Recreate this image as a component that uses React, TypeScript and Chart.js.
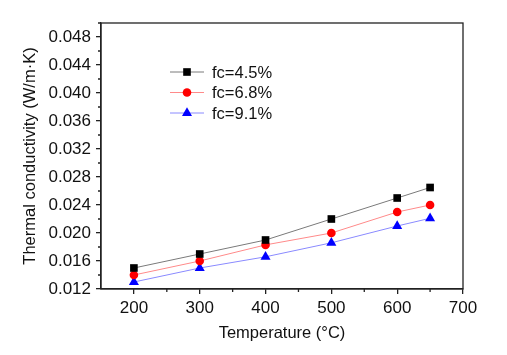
import React, { useEffect, useRef } from "react";
import { Chart, registerables } from "chart.js";

Chart.register(...registerables);

const temperatures = [200, 300, 400, 500, 600, 650];
const seriesLabels = ["fc=4.5%", "fc=6.8%", "fc=9.1%"];
const fc45 = [0.015, 0.017, 0.019, 0.022, 0.025, 0.0265];
const fc68 = [0.014, 0.016, 0.0183, 0.020, 0.023, 0.024];
const fc91 = [0.013, 0.015, 0.0166, 0.0186, 0.021, 0.0221];
const xMajorTicks = [200, 300, 400, 500, 600, 700];
const yMajorTicks = [0.012, 0.016, 0.020, 0.024, 0.028, 0.032, 0.036, 0.040, 0.044, 0.048];
const xMinorTicks = [250, 350, 450, 550, 650];
const yMinorTicks = [0.014, 0.018, 0.022, 0.026, 0.030, 0.034, 0.038, 0.042, 0.046, 0.050];

const FONT = "'Liberation Sans', Arial, Helvetica, sans-serif";
const AXIS = "#222";

function drawMarker(ctx: CanvasRenderingContext2D, style: string, r: number, x: number, y: number) {
  ctx.beginPath();
  if (style === "rect") {
    const s = Math.SQRT1_2 * r;
    ctx.rect(x - s, y - s, 2 * s, 2 * s);
  } else if (style === "circle") {
    ctx.arc(x, y, r, 0, Math.PI * 2);
  } else {
    ctx.moveTo(x, y - r);
    ctx.lineTo(x + r * Math.sin(Math.PI / 3), y + r / 2);
    ctx.lineTo(x - r * Math.sin(Math.PI / 3), y + r / 2);
    ctx.closePath();
  }
  ctx.fill();
}

const framePlugin = {
  id: "frame",
  afterDraw(chart: any) {
    const { ctx, chartArea: a, scales } = chart;
    ctx.save();
    ctx.strokeStyle = AXIS;
    ctx.lineWidth = 1.3;
    ctx.strokeRect(a.left, a.top, a.right - a.left, a.bottom - a.top);
    ctx.beginPath();
    for (const v of xMinorTicks) {
      const px = scales.x.getPixelForValue(v);
      ctx.moveTo(px, a.bottom);
      ctx.lineTo(px, a.bottom + 3);
    }
    for (const v of yMinorTicks) {
      const py = scales.y.getPixelForValue(v);
      ctx.moveTo(a.left, py);
      ctx.lineTo(a.left - 3, py);
    }
    ctx.stroke();

    // legend
    const lx0 = a.left + 69;
    const lx1 = a.left + 103;
    const tx = a.left + 111;
    const rowY = [a.top + 49, a.top + 69.5, a.top + 90];
    chart.data.datasets.forEach((ds: any, i: number) => {
      const y = rowY[i];
      ctx.strokeStyle = ds.borderColor;
      ctx.lineWidth = 1;
      ctx.beginPath();
      ctx.moveTo(lx0, y);
      ctx.lineTo(lx1, y);
      ctx.stroke();
      ctx.fillStyle = ds.pointBackgroundColor;
      drawMarker(ctx, ds.pointStyle, ds.pointRadius, (lx0 + lx1) / 2, y);
      ctx.fillStyle = "#111";
      ctx.font = `16.5px ${FONT}`;
      ctx.textBaseline = "middle";
      ctx.textAlign = "left";
      ctx.fillText(ds.label, tx, y + 1);
    });
    ctx.restore();
  },
};

export default function App() {
  const ref = useRef<HTMLCanvasElement>(null);
  useEffect(() => {
    const mk = (label: string, vals: number[], line: string, fill: string, style: string, r: number) => ({
      label,
      data: temperatures.map((t, i) => ({ x: t, y: vals[i] })),
      borderColor: line,
      borderWidth: 1,
      pointStyle: style,
      pointRadius: r,
      pointBackgroundColor: fill,
      pointBorderColor: fill,
      pointBorderWidth: 0,
      tension: 0,
    });
    const chart = new Chart(ref.current!, {
      type: "line",
      data: {
        datasets: [
          mk(seriesLabels[0], fc45, "#7a7a7a", "#000000", "rect", 5.4),
          mk(seriesLabels[1], fc68, "#ff8a8a", "#ff0000", "circle", 4.3),
          mk(seriesLabels[2], fc91, "#8a8aff", "#0000ff", "triangle", 5.8),
        ] as any,
      },
      options: {
        animation: false,
        responsive: false,
        layout: { padding: { left: 0, top: 23, right: 44, bottom: 0 } },
        plugins: { legend: { display: false }, tooltip: { enabled: false } },
        scales: {
          x: {
            type: "linear",
            min: 150,
            max: 700,
            afterBuildTicks: (s: any) => {
              s.ticks = xMajorTicks.map((v) => ({ value: v }));
            },
            afterFit: (s: any) => {
              s.height = 66;
            },
            ticks: {
              color: "#111",
              font: { family: FONT, size: 17 },
              padding: 4,
              maxRotation: 0,
              autoSkip: false,
            },
            grid: { drawOnChartArea: false, drawTicks: true, tickLength: 5, color: AXIS, lineWidth: 1.3 },
            border: { display: true, color: AXIS, width: 1.3 },
            title: {
              display: true,
              text: "Temperature (°C)",
              color: "#111",
              font: { family: FONT, size: 16.5 },
              padding: { top: 0, bottom: 12 },
            },
          },
          y: {
            type: "linear",
            min: 0.012,
            max: 0.05,
            afterBuildTicks: (s: any) => {
              s.ticks = yMajorTicks.map((v) => ({ value: v }));
            },
            afterFit: (s: any) => {
              s.width = 101;
            },
            ticks: {
              color: "#111",
              font: { family: FONT, size: 17 },
              padding: 5,
              autoSkip: false,
              callback: (v: any) => Number(v).toFixed(3),
            },
            grid: { drawOnChartArea: false, drawTicks: true, tickLength: 5, color: AXIS, lineWidth: 1.3 },
            border: { display: true, color: AXIS, width: 1.3 },
            title: {
              display: true,
              text: "Thermal conductivity (W/m·K)",
              color: "#111",
              font: { family: FONT, size: 16.5 },
              padding: { top: 21, bottom: 0 },
            },
          },
        },
      },
      plugins: [framePlugin],
    });
    return () => chart.destroy();
  }, []);
  return (
    <div style={{ position: "fixed", left: 0, top: 0, width: 507, height: 355, background: "#fff" }}>
      <canvas ref={ref} width={507} height={355} style={{ width: 507, height: 355 }} />
    </div>
  );
}
